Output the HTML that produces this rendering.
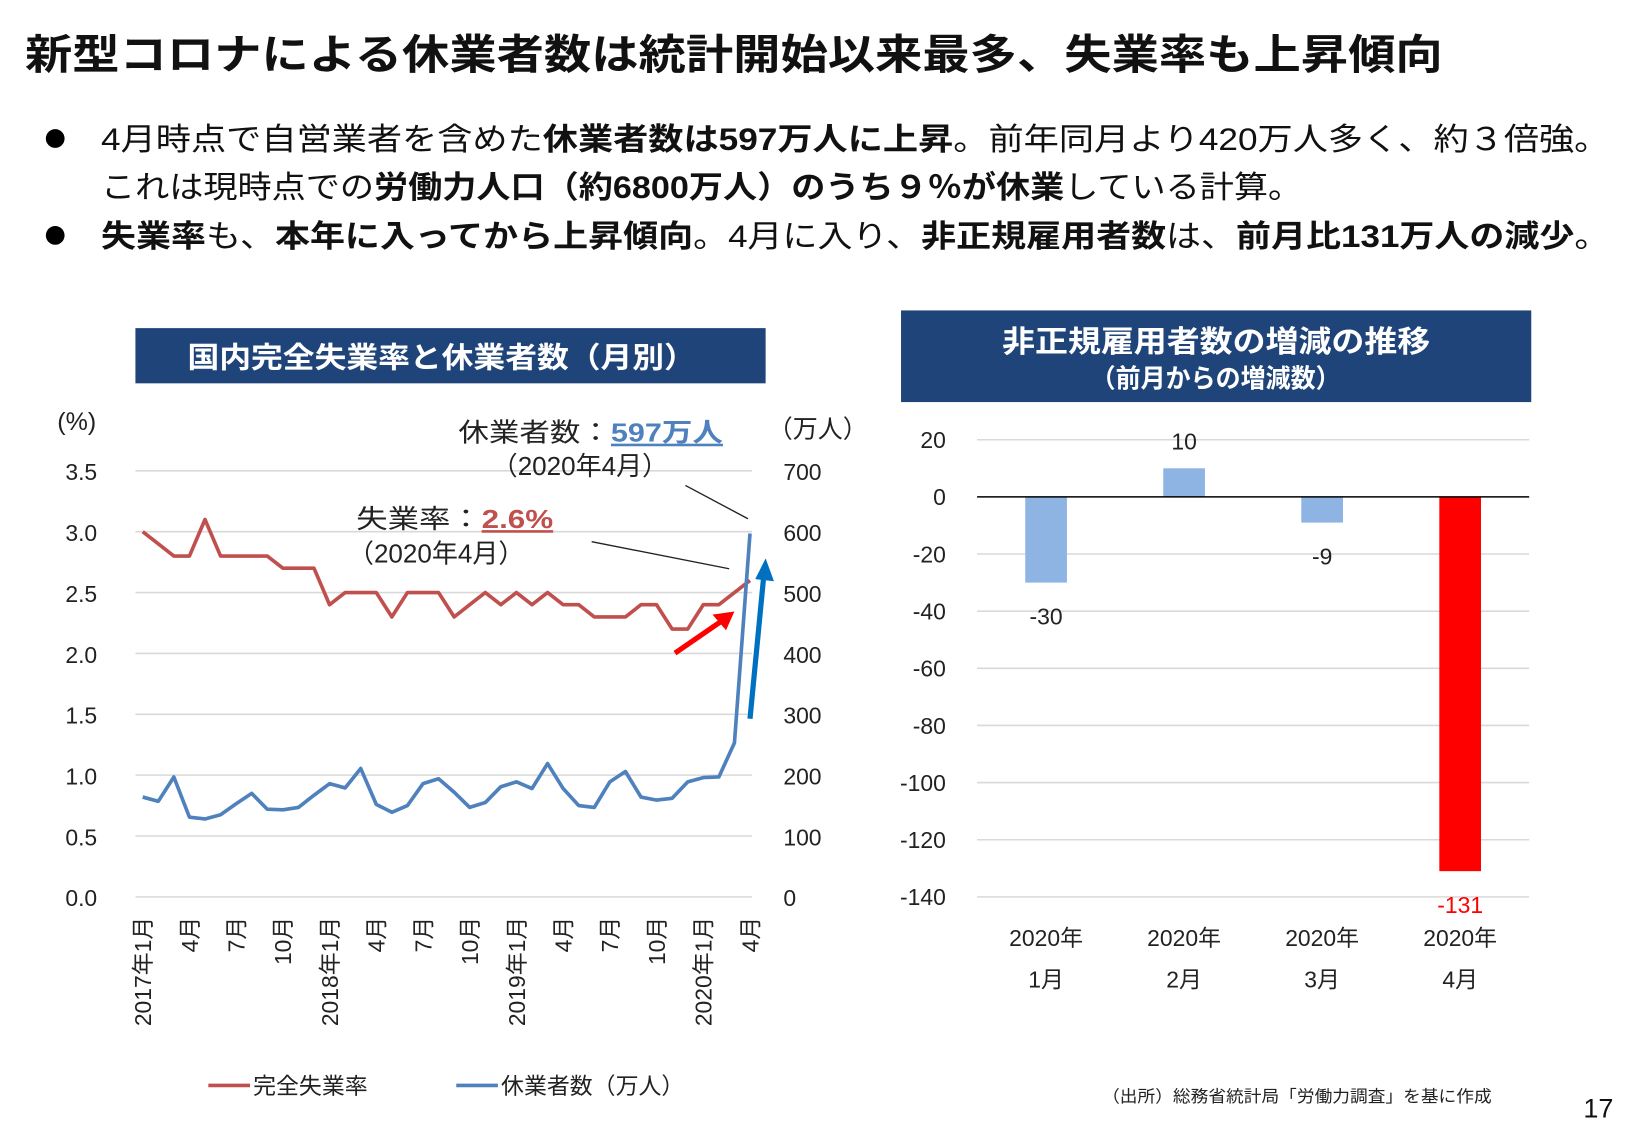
<!DOCTYPE html>
<html><head><meta charset="utf-8">
<style>
html,body{margin:0;padding:0;background:#fff;}
svg{display:block;font-family:"Liberation Sans","Noto Sans CJK JP",sans-serif;}
</style></head>
<body>
<svg id="page" width="1625" height="1125" viewBox="0 0 1560 1080" xmlns="http://www.w3.org/2000/svg">
<text x="24" y="66" font-size="40" font-weight="bold" fill="#111" textLength="1361" lengthAdjust="spacingAndGlyphs">新型コロナによる休業者数は統計開始以来最多、失業率も上昇傾向</text>
<g font-size="30" fill="#111">
<circle cx="53" cy="133" r="9" fill="#000"/>
<text x="97" y="144" textLength="1448" lengthAdjust="spacingAndGlyphs">4月時点で自営業者を含めた<tspan font-weight="bold">休業者数は597万人に上昇</tspan>。前年同月より420万人多く、約３倍強。</text>
<text x="97" y="190" textLength="1153" lengthAdjust="spacingAndGlyphs">これは現時点での<tspan font-weight="bold">労働力人口（約6800万人）のうち９％が休業</tspan>している計算。</text>
<circle cx="53" cy="226" r="9" fill="#000"/>
<text x="97" y="237" textLength="1448" lengthAdjust="spacingAndGlyphs"><tspan font-weight="bold">失業率</tspan>も、<tspan font-weight="bold">本年に入ってから上昇傾向</tspan>。4月に入り、<tspan font-weight="bold">非正規雇用者数</tspan>は、<tspan font-weight="bold">前月比131万人の減少</tspan>。</text>
</g>
<rect x="130" y="315" width="605" height="53" fill="#1F4479"/>
<text x="180" y="353" font-size="28" font-weight="bold" fill="#fff" textLength="488" lengthAdjust="spacingAndGlyphs">国内完全失業率と休業者数（月別）</text>
<rect x="865" y="298" width="605" height="88" fill="#1F4479"/>
<text x="962" y="338" font-size="29" font-weight="bold" fill="#fff" textLength="411" lengthAdjust="spacingAndGlyphs">非正規雇用者数の増減の推移</text>
<text x="1047" y="372" font-size="25" font-weight="bold" fill="#fff" textLength="240" lengthAdjust="spacingAndGlyphs">（前月からの増減数）</text>
<g id="left"></g>
<g id="right"></g>
<text x="1058" y="1058" font-size="16" fill="#222" textLength="374" lengthAdjust="spacingAndGlyphs">（出所）総務省統計局「労働力調査」を基に作成</text>
<text x="1520" y="1073" font-size="26" fill="#111">17</text>
</svg>
<script>
const rateValues=[3.0,2.9,2.8,2.8,3.1,2.8,2.8,2.8,2.8,2.7,2.7,2.7,2.4,2.5,2.5,2.5,2.3,2.5,2.5,2.5,2.3,2.4,2.5,2.4,2.5,2.4,2.5,2.4,2.4,2.3,2.3,2.3,2.4,2.4,2.2,2.2,2.4,2.4,2.5,2.6];
const leaveValues=[164,157,197,131,128,135,153,170,144,143,147,167,186,179,211,152,139,150,186,194,172,147,155,181,189,178,219,178,150,147,189,206,164,159,162,189,196,197,253,597];
const monthLabels=["2017年1月","4月","7月","10月","2018年1月","4月","7月","10月","2019年1月","4月","7月","10月","2020年1月","4月"];
const leftTicks=["0.0","0.5","1.0","1.5","2.0","2.5","3.0","3.5"];
const rightTicks=["0","100","200","300","400","500","600","700"];
const barCategories=["2020年|1月","2020年|2月","2020年|3月","2020年|4月"];
const barValues=[-30,10,-9,-131];
const barTicks=[20,0,-20,-40,-60,-80,-100,-120,-140];

const NS="http://www.w3.org/2000/svg";
function mk(tag,attrs,parent,txt){const e=document.createElementNS(NS,tag);for(const k in attrs)e.setAttribute(k,attrs[k]);if(txt!==undefined)e.textContent=txt;parent.appendChild(e);return e;}
const L=document.getElementById('left'),R=document.getElementById('right');
const x0=137,x1=720,yb=861,yt=452;
const xL=i=>x0+(x1-x0)*i/(rateValues.length-1);
const yRate=v=>yb-(yb-yt)*v/3.5;
const yLeave=v=>yb-(yb-yt)*v/700;
leftTicks.forEach((t,i)=>{const y=yRate(+t);
 let g=mk('line',{x1:130,x2:722,y1:y,y2:y,stroke:'#d9d9d9','stroke-width':1.5},L);
 let a=mk('text',{x:78,y:y+9,'font-size':22,'text-anchor':'middle',fill:'#222'},L,t);
 let b=mk('text',{x:752,y:y+9,'font-size':22,fill:'#222'},L,rightTicks[i]);
});
let u1=mk('text',{x:55,y:413,'font-size':24,fill:'#222'},L,'(%)');
let u2=mk('text',{x:737,y:420,'font-size':24,fill:'#222'},L,'（万人）');
monthLabels.forEach((m,k)=>{const x=xL(k*3)+8;
 let t=mk('text',{x:0,y:0,'font-size':22,fill:'#222','text-anchor':'end',transform:`translate(${x},880) rotate(-90)`},L,m);
 });
let pr=mk('polyline',{points:rateValues.map((v,i)=>xL(i)+','+yRate(v)).join(' '),fill:'none',stroke:'#C0504D','stroke-width':3.5,'stroke-linejoin':'round'},L);

let pb=mk('polyline',{points:leaveValues.map((v,i)=>xL(i)+','+yLeave(v)).join(' '),fill:'none',stroke:'#4F81BD','stroke-width':3.5,'stroke-linejoin':'round'},L);

let a1=mk('text',{x:440,y:424,'font-size':25,fill:'#222',textLength:254,lengthAdjust:'spacingAndGlyphs'},L);
a1.innerHTML='休業者数：<tspan fill="#4F81BD" font-weight="bold" text-decoration="underline">597万人</tspan>';
let a1b=mk('text',{x:472,y:456,'font-size':25,fill:'#222'},L,'（2020年4月）');
let a2=mk('text',{x:342,y:507,'font-size':25,fill:'#222',textLength:189,lengthAdjust:'spacingAndGlyphs'},L);
a2.innerHTML='失業率：<tspan fill="#C0504D" font-weight="bold" text-decoration="underline">2.6%</tspan>';
let a2b=mk('text',{x:334,y:540,'font-size':25,fill:'#222'},L,'（2020年4月）');
let l1=mk('line',{x1:658,y1:466,x2:718,y2:498,stroke:'#222','stroke-width':1.3},L);
let l2=mk('line',{x1:568,y1:520,x2:700,y2:546,stroke:'#222','stroke-width':1.3},L);
let ar1=mk('line',{x1:648,y1:627,x2:693,y2:596,stroke:'#FF0000','stroke-width':5},L);
let ah1=mk('polygon',{points:'705,587 684,590 697,605',fill:'#FF0000'},L);
let ar2=mk('line',{x1:720,y1:690,x2:733,y2:555,stroke:'#0070C0','stroke-width':5},L);
let ah2=mk('polygon',{points:'735,536 725,556 743,558',fill:'#0070C0'},L);
let lg1=mk('line',{x1:200,x2:240,y1:1042,y2:1042,stroke:'#C0504D','stroke-width':3.5},L);
let lt1=mk('text',{x:243,y:1050,'font-size':22,fill:'#222'},L,'完全失業率');
let lg2=mk('line',{x1:438,x2:478,y1:1042,y2:1042,stroke:'#4F81BD','stroke-width':3.5},L);
let lt2=mk('text',{x:481,y:1050,'font-size':22,fill:'#222'},L,'休業者数（万人）');
const bx0=938,bx1=1468;
const yB=v=>477-(v)*(861-477)/140;
const bw=(bx1-bx0)/barValues.length;
barTicks.forEach(t=>{const y=yB(t);
 if(t!==0){let g=mk('line',{x1:bx0,x2:bx1,y1:y,y2:y,stroke:'#d9d9d9','stroke-width':1.5},R);}
 let a=mk('text',{x:908,y:y+8,'font-size':22,'text-anchor':'end',fill:'#222'},R,String(t));});
barValues.forEach((v,i)=>{const cx=bx0+bw*(i+0.5);const y0=yB(0),y=yB(v);
 const last=i===barValues.length-1;
 let r=mk('rect',{x:cx-20,y:Math.min(y0,y),width:40,height:Math.abs(y-y0),fill:last?'#FF0000':'#8DB4E2'},R);
 
 const ly=v>=0?y-18:y+40;
 let t=mk('text',{x:cx,y:ly,'font-size':22,'text-anchor':'middle',fill:last?'#FF0000':'#222'},R,String(v));
 
 const parts=barCategories[i].split('|');
 let c1=mk('text',{x:cx,y:908,'font-size':22,'text-anchor':'middle',fill:'#222'},R,parts[0]);
 let c2=mk('text',{x:cx,y:948,'font-size':22,'text-anchor':'middle',fill:'#222'},R,parts[1]);
});
let zl=mk('line',{x1:bx0,x2:bx1,y1:yB(0),y2:yB(0),stroke:'#000','stroke-width':1.5},R);
</script>
</body></html>
